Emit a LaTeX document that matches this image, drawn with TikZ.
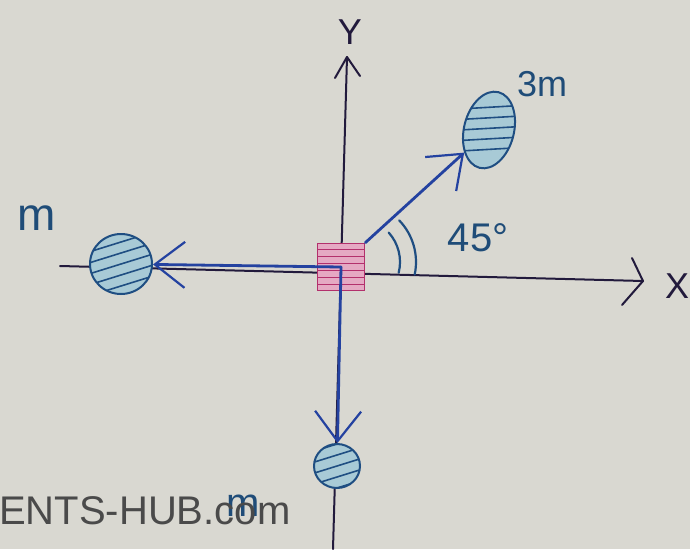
\documentclass[tikz,border=0pt]{standalone}
\usepackage{fontspec}
\setmainfont{Liberation Sans}
\usetikzlibrary{shapes.geometric,arrows.meta,calc}
\definecolor{paper}{HTML}{D9D8D1}
\definecolor{ink}{HTML}{221A3C}
\definecolor{pen}{HTML}{2442A0}
\definecolor{teal}{HTML}{1F4C78}
\definecolor{ballfill}{HTML}{A8CAD6}
\definecolor{ballline}{HTML}{1F4E82}
\definecolor{sqfill}{HTML}{E5A9C3}
\definecolor{sqline}{HTML}{B3306C}
\definecolor{mark}{HTML}{4A4A4A}
\tikzset{
  axisline/.style={draw=ink, line width=2pt, line cap=round},
  force/.style={draw=pen, line width=2.8pt, line cap=round,
    -{Straight Barb[length=30pt,width=46pt,line width=2.2pt]}},
  ball/.style={ellipse, draw=ballline, line width=2pt, fill=ballfill, inner sep=0pt,
    path picture={\foreach \k in {-2,...,2}{
      \draw[ballline, line width=1.6pt] ($(path picture bounding box.center)+(-45,\k*11+14)$) -- ++(90,-28);}}},
  sqbox/.style={rectangle, draw=sqline, line width=1.8pt, fill=sqfill, inner sep=0pt,
    minimum width=47pt, minimum height=47pt,
    path picture={\foreach \k in {-2.5,-1.5,...,2.5}{
      \draw[sqline, line width=1.3pt] ($(path picture bounding box.center)+(-24,\k*7)$) -- ++(48,0);}}},
  anglearc/.style={draw=ballline, line width=2.2pt, line cap=round},
  handlab/.style={text=teal, inner sep=0pt},
  axislab/.style={text=ink, inner sep=0pt, font=\fontsize{36}{36}\selectfont},
}
\begin{document}
\begin{tikzpicture}[x=1pt,y=-1pt]
  \fill[paper] (0,0) rectangle (690,549);
  \useasboundingbox (0,0) rectangle (690,549);

  % axes
  \coordinate (ybot) at (333,549);
  \coordinate (ytop) at (347,57);
  \coordinate (xleft) at (60,266);
  \coordinate (xright) at (643,281);
  \draw[axisline] (ybot) -- (ytop);
  \draw[axisline, line join=round] ($(ytop)+(-12,21)$) -- (ytop) -- ++(13,19);
  \draw[axisline] (xleft) -- (xright);
  \draw[axisline, line join=round] ($(xright)+(-11,-23)$) -- (xright) -- ++(-21,24);
  \node[axislab] (ylab) at (350,32) {Y};
  \node[axislab] (xlab) at (677,286) {X};

  % central body
  \node[sqbox] (sq) at (341,267) {};

  % balls
  \node[ball, minimum width=62pt, minimum height=60pt] (lball) at (121,264) {};
  \node[ball, minimum width=46pt, minimum height=44pt] (dball) at (337,466) {};
  \node[ball, minimum width=50pt, minimum height=78pt, rotate=-14] (tball) at (489,130) {};

  % forces
  \draw[force] (sq.center) -- (lball);
  \draw[force] (sq.center) -- (dball);
  \draw[force] (sq.north east) -- (tball);

  % angle marks
  \coordinate (ac) at (356,262);
  \draw[anglearc] (ac) ++(-42:44) arc[start angle=-42, end angle=14, radius=44];
  \draw[anglearc] (ac) ++(-44:60) arc[start angle=-44, end angle=12, radius=60];

  % labels
  \node[handlab, font=\fontsize{46}{46}\selectfont] (mleft) at (37,218) {m};
  \node[handlab, font=\fontsize{36}{36}\selectfont] (m3) at (542,84) {3m};
  \node[handlab, font=\fontsize{40}{40}\selectfont] (ang) at (478,238) {45°};
  \node[handlab, font=\fontsize{40}{40}\selectfont] (mbot) at (243,506) {m};

  % watermark
  \node[text=mark, anchor=base west, inner sep=0pt, font=\fontsize{40}{40}\selectfont] (wm) at (-1,524) {ENTS-HUB.com};
\end{tikzpicture}
\end{document}
